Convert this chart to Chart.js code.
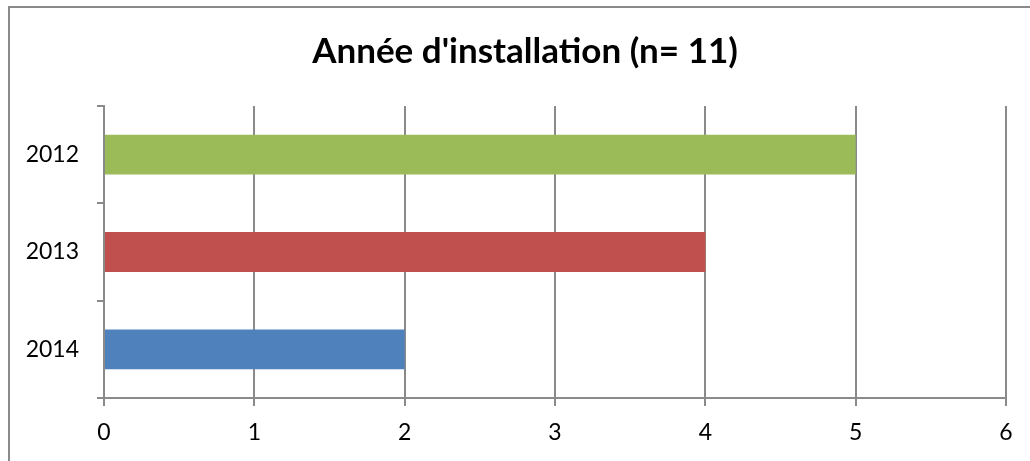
<!DOCTYPE html>
<html>
<head>
<meta charset="utf-8">
<script src="https://cdn.jsdelivr.net/npm/chart.js@4"></script>
<style>
  body { margin: 0; background: #fff; }
  #chart { display: block; }
</style>
</head>
<body>
<canvas id="chart" width="1030" height="461"></canvas>
<script>
// Chart data
const categories = ['2012', '2013', '2014'];
const values = [5, 4, 2];
const barColors = ['#9BBB59', '#C0504D', '#4F81BD'];
const xTicks = [0, 1, 2, 3, 4, 5, 6];

const gridGray = '#8a8a8a';

// Outer frame of the chart box (only top and left edges are in view)
const framePlugin = {
    id: 'frame',
    afterLayout(chart) {
        // the original title is centred a bit right of the canvas middle
        if (chart.titleBlock) {
            chart.titleBlock.left = 44;
            chart.titleBlock.right = 1006;
        }
    },
    beforeDraw(chart) {
        const ctx = chart.ctx;
        ctx.save();
        ctx.fillStyle = '#ffffff';
        ctx.fillRect(0, 0, chart.width, chart.height);
        ctx.strokeStyle = '#8a8a8a';
        ctx.lineWidth = 2;
        ctx.strokeRect(9, 7, 1100, 600);
        ctx.restore();
    }
};

function initChart() {
    const ctx = document.getElementById('chart').getContext('2d');
    new Chart(ctx, {
        type: 'bar',
        data: {
            labels: categories,
            datasets: [{
                data: values,
                backgroundColor: barColors,
                borderWidth: 0,
                categoryPercentage: 1,
                barPercentage: 0.41
            }]
        },
        options: {
            indexAxis: 'y',
            responsive: false,
            animation: false,
            layout: { padding: { left: 0, right: 24, top: 0, bottom: 0 } },
            plugins: {
                legend: { display: false },
                tooltip: { enabled: false },
                title: {
                    display: true,
                    text: "Année d'installation (n= 11)",
                    color: '#000',
                    font: { family: 'Lato', size: 35, weight: 'bold', lineHeight: 1.2 },
                    padding: { top: 31, bottom: 33 }
                }
            },
            scales: {
                x: {
                    min: 0,
                    max: 6,
                    afterBuildTicks: (scale) => {
                        scale.ticks = xTicks.map(v => ({ value: v }));
                    },
                    afterFit: (scale) => { scale.height = 63; },
                    grid: { color: gridGray, lineWidth: 2, tickLength: 8 },
                    border: { color: gridGray, width: 2 },
                    ticks: {
                        color: '#000',
                        padding: 13,
                        font: { family: 'Lato', size: 23 }
                    }
                },
                y: {
                    afterFit: (scale) => { scale.width = 104; },
                    grid: {
                        color: gridGray,
                        lineWidth: 2,
                        offset: true,
                        drawOnChartArea: false,
                        tickLength: 7
                    },
                    border: { color: gridGray, width: 2 },
                    ticks: {
                        color: '#000',
                        padding: 18,
                        font: { family: 'Lato', size: 23 }
                    }
                }
            }
        },
        plugins: [framePlugin]
    });
}

document.addEventListener('DOMContentLoaded', initChart);
</script>
</body>
</html>
